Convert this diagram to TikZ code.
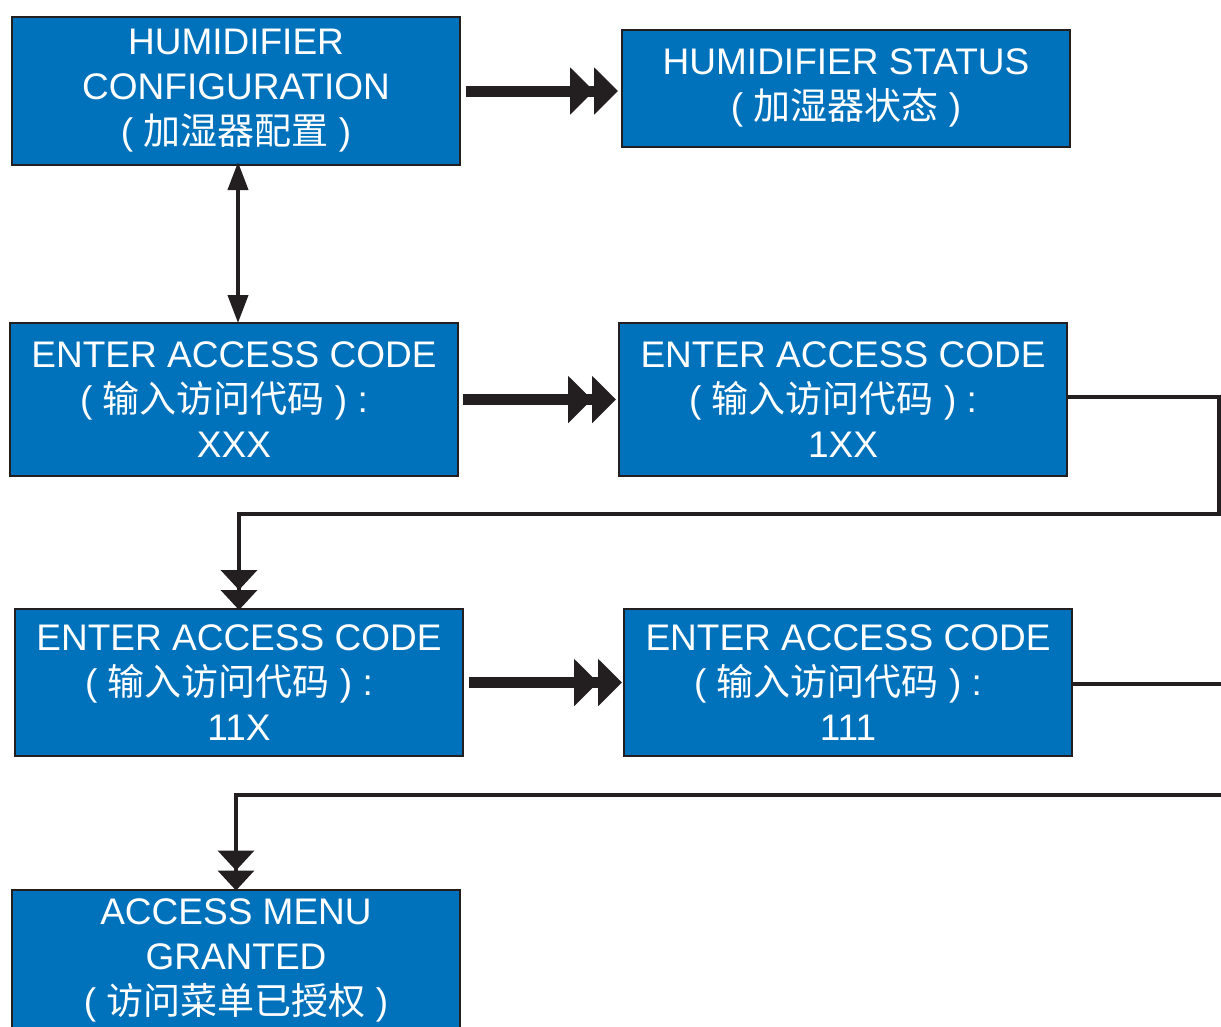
\documentclass[tikz,border=0pt]{standalone}
\usepackage{fontspec}
\setmainfont{Liberation Sans}
\newfontfamily\cjk{Noto Sans CJK SC}
\usetikzlibrary{arrows.meta}
\definecolor{boxblue}{RGB}{0,114,188}
\definecolor{edge}{RGB}{35,31,32}
\newcommand{\zh}[1]{{\cjk\fontsize{37}{45}\selectfont #1}}
\newcommand{\codeline}{( \zh{输入访问代码} ) :\hbox to 20pt{}}
\tikzset{
  box/.style={draw=edge, line width=2pt, fill=boxblue, text=white,
    minimum width=448pt, align=center, inner sep=0pt,
    font=\fontsize{37}{45}\selectfont},
  bigarrow/.style={draw=edge, line width=11pt,
    -{Triangle[width=46pt,length=24pt]Triangle[width=46pt,length=24pt]}},
  vertarrow/.style={draw=edge, line width=4pt,
    {Triangle[width=20pt,length=28pt]}-{Triangle[width=20pt,length=28pt]}},
  conn/.style={draw=edge, line width=4pt,
    -{Triangle[width=36pt,length=20pt]Triangle[width=36pt,length=20pt]}},
}
\begin{document}
\begin{tikzpicture}[x=1pt,y=-1pt]
\useasboundingbox (0,0) rectangle (1221,1026);
\node[box, minimum height=148pt] (b1) at (236,91) {HUMIDIFIER\\CONFIGURATION\\( \zh{加湿器配置} )};
\node[box, minimum height=117pt] (b2) at (846,88) {HUMIDIFIER STATUS\\( \zh{加湿器状态} )};
\node[box, minimum height=153pt] (b3) at (234,399.5) {ENTER ACCESS CODE\\\codeline\\XXX};
\node[box, minimum height=153pt] (b4) at (843,399.5) {ENTER ACCESS CODE\\\codeline\\1XX};
\node[box, minimum height=147pt] (b5) at (239,682.5) {ENTER ACCESS CODE\\\codeline\\11X};
\node[box, minimum height=147pt] (b6) at (848,682.5) {ENTER ACCESS CODE\\\codeline\\111};
\node[box, minimum height=141pt] (b7) at (236,960) {ACCESS MENU\\GRANTED\\( \zh{访问菜单已授权} )};

\draw[bigarrow] ([xshift=5pt]b1.east) -- ([xshift=-3pt]b1.east -| b2.west);
\draw[bigarrow] ([xshift=4pt]b3.east) -- ([xshift=-2pt]b4.west);
\draw[bigarrow] ([xshift=5pt]b5.east) -- ([xshift=-1pt]b6.west);
\draw[vertarrow] ([xshift=2pt,yshift=4pt]b1.south) -- ([xshift=4pt,yshift=-1pt]b3.north);

\coordinate (r1) at (1219,397);
\coordinate (r2) at (1219,514);
\draw[conn] (b4.east |- r1) -- (r1) -- (r2) -| ([yshift=-2pt]b5.north);
\coordinate (s1) at (1226,684);
\coordinate (s2) at (1226,795);
\draw[conn] (b6.east |- s1) -- (s1) -- (s2) -| ([yshift=-2pt]b7.north);
\end{tikzpicture}
\end{document}
